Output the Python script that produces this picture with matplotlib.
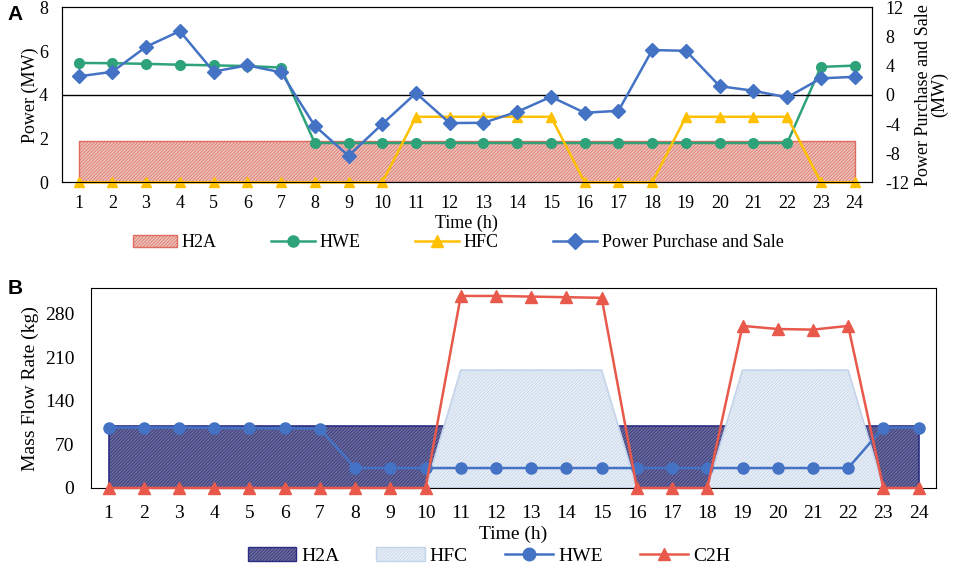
import matplotlib
matplotlib.use("Agg")
import matplotlib.pyplot as plt
from matplotlib.patches import Patch
from matplotlib.lines import Line2D

plt.rcParams['font.family'] = ['Liberation Serif', 'DejaVu Serif']
plt.rcParams['hatch.linewidth'] = 0.5
plt.rcParams['axes.unicode_minus'] = False

hours = list(range(1, 25))

# panel A
h2a_a = [1.9] * 24
hwe_a = [5.46, 5.45, 5.42, 5.38, 5.35, 5.32, 5.25, 1.8, 1.8, 1.8, 1.8, 1.8,
         1.8, 1.8, 1.8, 1.8, 1.8, 1.8, 1.8, 1.8, 1.8, 1.8, 5.28, 5.34]
hfc_a = [0, 0, 0, 0, 0, 0, 0, 0, 0, 0, 3, 3, 3, 3, 3, 0, 0, 0, 3, 3, 3, 3, 0, 0]
grid_ps = [2.54, 3.17, 6.6, 8.75, 3.2, 4.05, 3.1, -4.24, -8.35, -4.0, 0.25, -3.87,
           -3.82, -2.32, -0.26, -2.45, -2.18, 6.15, 6.05, 1.2, 0.57, -0.34, 2.27, 2.48]

# panel B
h2a_b = [100] * 24
hfc_b = [0, 0, 0, 0, 0, 0, 0, 0, 0, 0, 189, 189, 189, 189, 189, 0, 0, 0,
         189, 189, 189, 189, 0, 0]
hwe_b = [97, 97, 97, 96.5, 96, 96, 95, 32, 32, 32, 32, 32,
         32, 32, 32, 32, 32, 32, 32, 32, 32, 32, 97, 97]
c2h_b = [0, 0, 0, 0, 0, 0, 0, 0, 0, 0, 308, 308, 307, 306, 305, 0, 0, 0,
         260, 255, 254, 260, 0, 0]

green = '#2ea37a'
yellow = '#ffc000'
blue = '#4472c4'
red = '#e8594b'
h2a_face_a, h2a_edge_a = '#ebc3bc', '#df6a5e'
h2a_face_b, h2a_edge_b = '#6c6c96', '#2b2d84'
hfc_face_b, hfc_edge_b = '#e8eef5', '#c3d4ea'
hatch = '/' * 10

fig = plt.figure(figsize=(9.55, 5.7), dpi=100)

# ---------- A ----------
ax = fig.add_axes([0.0646, 0.680, 0.848, 0.307])
ax.fill_between(hours, 0, h2a_a, facecolor=h2a_face_a, edgecolor=h2a_edge_a,
                hatch=hatch, linewidth=1.0, zorder=1)
ax.plot(hours, hwe_a, color=green, marker='o', markersize=7, lw=1.8, zorder=3)
ax.plot(hours, hfc_a, color=yellow, marker='^', markersize=7, lw=1.8, zorder=3,
        clip_on=False)
ax.set_xlim(0.5, 24.5)
ax.set_ylim(0, 8)
ax.set_yticks([0, 2, 4, 6, 8])
ax.set_xticks(hours)
ax.tick_params(axis='x', length=0, labelsize=13, pad=9)
ax.tick_params(axis='y', length=0, labelsize=13, pad=10)
ax.set_ylabel('Power (MW)', fontsize=13, labelpad=0)
ax.set_xlabel('Time (h)', fontsize=13, labelpad=2)

ax2 = ax.twinx()
ax2.axhline(0, color='black', lw=1.0, zorder=2)
ax2.plot(hours, grid_ps, color=blue, marker='D', markersize=7, lw=1.8, zorder=4)
ax2.set_ylim(-12, 12)
ax2.set_yticks([-12, -8, -4, 0, 4, 8, 12])
ax2.tick_params(length=0, labelsize=13, pad=10)
ax2.set_ylabel('Power Purchase and Sale\n(MW)', fontsize=13, labelpad=4,
               linespacing=0.95)

handles_a = [
    Patch(facecolor=h2a_face_a, edgecolor=h2a_edge_a, hatch=hatch, label='H2A'),
    Line2D([], [], color=green, marker='o', markersize=8, lw=1.8, label='HWE'),
    Line2D([], [], color=yellow, marker='^', markersize=8, lw=1.8, label='HFC'),
    Line2D([], [], color=blue, marker='D', markersize=8, lw=1.8,
           label='Power Purchase and Sale'),
]
fig.legend(handles=handles_a, loc='center', bbox_to_anchor=(0.48, 0.574), ncol=4,
           frameon=False, fontsize=13, handlelength=2.45, columnspacing=3.0,
           handletextpad=0.25)
fig.text(0.008, 0.975, 'A', fontsize=15, fontweight='bold',
         family='Liberation Sans', va='center')

# ---------- B ----------
bx = fig.add_axes([0.0953, 0.1439, 0.885, 0.350])
bx.fill_between(hours, 0, h2a_b, facecolor=h2a_face_b, edgecolor=h2a_edge_b,
                hatch=hatch, linewidth=1.2, zorder=1)
bx.fill_between(hours, 0, hfc_b, facecolor=hfc_face_b, edgecolor=hfc_edge_b,
                hatch=hatch, linewidth=1.2, zorder=2)
bx.plot(hours, hwe_b, color=blue, marker='o', markersize=8, lw=1.8, zorder=3)
bx.plot(hours, c2h_b, color=red, marker='^', markersize=8, lw=1.8, zorder=4,
        clip_on=False)
bx.set_xlim(0.5, 24.5)
bx.set_ylim(0, 320)
bx.set_yticks([0, 70, 140, 210, 280])
bx.set_xticks(hours)
bx.tick_params(axis='x', length=0, labelsize=14, pad=12)
bx.tick_params(axis='y', length=0, labelsize=14, pad=12)
bx.set_ylabel('Mass Flow Rate (kg)', fontsize=14, labelpad=4)
bx.set_xlabel('Time (h)', fontsize=14, labelpad=3)

handles_b = [
    Patch(facecolor=h2a_face_b, edgecolor=h2a_edge_b, hatch=hatch, label='H2A'),
    Patch(facecolor=hfc_face_b, edgecolor=hfc_edge_b, hatch=hatch, label='HFC'),
    Line2D([], [], color=blue, marker='o', markersize=9, lw=1.8, label='HWE'),
    Line2D([], [], color=red, marker='^', markersize=9, lw=1.8, label='C2H'),
]
fig.legend(handles=handles_b, loc='center', bbox_to_anchor=(0.512, 0.025), ncol=4,
           frameon=False, fontsize=14, handlelength=2.5, columnspacing=1.9,
           handletextpad=0.25)
fig.text(0.008, 0.493, 'B', fontsize=15, fontweight='bold',
         family='Liberation Sans', va='center')

fig.savefig('out.png', dpi=100)
